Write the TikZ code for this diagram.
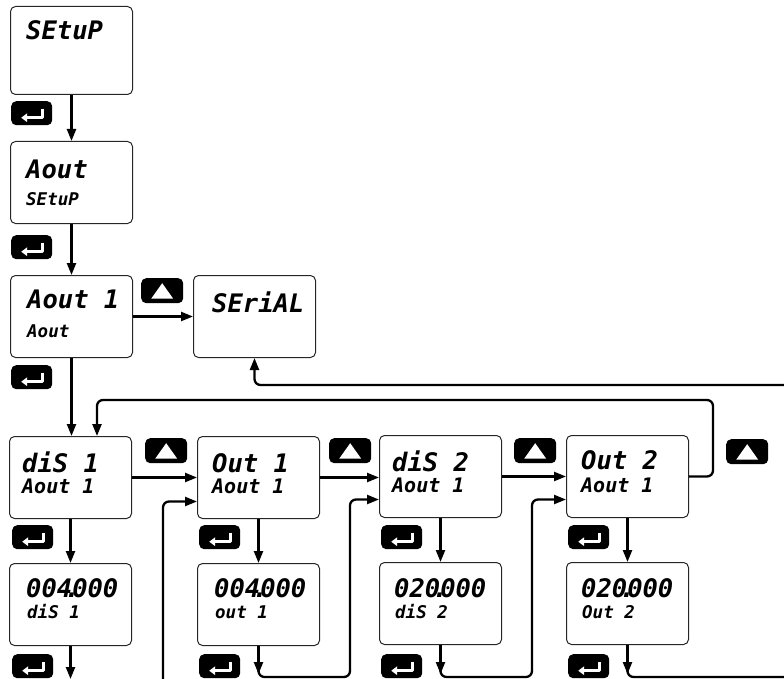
\documentclass[tikz,border=0pt]{standalone}
\usepackage{fontspec}
\newfontfamily\lcd{DejaVu Sans Mono Bold Oblique}
\usetikzlibrary{arrows.meta,calc}
\begin{document}
\begin{tikzpicture}[x=1pt,y=-1pt,
  lcdbox/.style={draw=black!85, line width=1pt, rounded corners=5pt, minimum width=122pt, minimum height=82pt, inner sep=0pt, anchor=north west},
  big/.style={anchor=base west, inner sep=0pt, font=\lcd\fontsize{25.5}{27}\selectfont},
  small/.style={anchor=base west, inner sep=0pt, font=\lcd\fontsize{20}{22}\selectfont},
  smaller/.style={anchor=base west, inner sep=0pt, font=\lcd\fontsize{17.5}{19}\selectfont},
  conn/.style={line width=2.3pt, rounded corners=6pt, -{Triangle[length=12pt,width=9pt]}},
  plain/.style={line width=2.3pt, rounded corners=6pt},
  tip/.style={line width=2.3pt, -{Triangle[length=12pt,width=9pt]}},
  enterkey/.style={fill=black, rounded corners=5pt, minimum width=41pt, minimum height=24pt, inner sep=0pt, anchor=north west,
    path picture={\path (path picture bounding box.center) coordinate (pc);
      \draw[white, sharp corners, line width=2.6pt, line join=round, -{Triangle[length=6pt,width=8.5pt]}]
        ($(pc)+(10.5,-4.5)$) -- ($(pc)+(10.5,4.5)$) -- ($(pc)+(-10.5,4.5)$);}},
  upkey/.style={fill=black, rounded corners=5pt, minimum width=42pt, minimum height=25pt, inner sep=0pt, anchor=north west,
    path picture={\path (path picture bounding box.center) coordinate (pc);
      \fill[white, sharp corners] ($(pc)+(-11,8)$) -- ($(pc)+(11,8)$) -- ($(pc)+(0,-7.5)$) -- cycle;}}
]
\useasboundingbox (0,0) rectangle (784,679);

% boxes
\node[lcdbox, minimum height=88pt] (setup) at (10,6) {};
\node[lcdbox] (aout) at (10,141) {};
\node[lcdbox] (aout1) at (10,275) {};
\node[lcdbox] (serial) at (193,275) {};
\node[lcdbox] (dis1) at (9,436) {};
\node[lcdbox] (out1) at (197,436) {};
\node[lcdbox] (dis2) at (379,435) {};
\node[lcdbox] (out2) at (566,435) {};
\node[lcdbox] (v1) at (9,563) {};
\node[lcdbox] (v2) at (197,563) {};
\node[lcdbox] (v3) at (379,562) {};
\node[lcdbox] (v4) at (566,562) {};

% texts
\node[big] (setupT) at ($(setup.north west)+(16,34)$) {SEtuP};
\node[big] (aoutT) at ($(aout.north west)+(16,38)$) {Aout};
\node[smaller] (aoutS) at ($(aout.north west)+(16,65)$) {SEtuP};
\node[big] (aout1T) at ($(aout1.north west)+(17,33)$) {Aout 1};
\node[smaller] (aout1S) at ($(aout1.north west)+(17,62)$) {Aout};
\node[big] (serialT) at ($(serial.north west)+(19,37)$) {SEriAL};
\node[big] (dis1T) at ($(dis1.north west)+(13,36)$) {diS 1};
\node[small] (dis1S) at ($(dis1.north west)+(13,57)$) {Aout 1};
\node[big] (out1T) at ($(out1.north west)+(15,36)$) {Out 1};
\node[small] (out1S) at ($(out1.north west)+(15,57)$) {Aout 1};
\node[big] (dis2T) at ($(dis2.north west)+(13,36)$) {diS 2};
\node[small] (dis2S) at ($(dis2.north west)+(13,57)$) {Aout 1};
\node[big] (out2T) at ($(out2.north west)+(15,34)$) {Out 2};
\node[small] (out2S) at ($(out2.north west)+(15,57)$) {Aout 1};
\node[big] (v1T) at ($(v1.north west)+(17,34)$) {004\makebox[0pt]{.}000};
\node[smaller] (v1S) at ($(v1.north west)+(18,55)$) {diS 1};
\node[big] (v2T) at ($(v2.north west)+(17,34)$) {004\makebox[0pt]{.}000};
\node[smaller] (v2S) at ($(v2.north west)+(18,55)$) {out 1};
\node[big] (v3T) at ($(v3.north west)+(15,35)$) {020\makebox[0pt]{.}000};
\node[smaller] (v3S) at ($(v3.north west)+(16,56)$) {diS 2};
\node[big] (v4T) at ($(v4.north west)+(15,35)$) {020\makebox[0pt]{.}000};
\node[smaller] (v4S) at ($(v4.north west)+(16,56)$) {Out 2};

% keys
\node[enterkey] (e1) at (11,101) {};
\node[enterkey] (e2) at (11,235) {};
\node[enterkey] (e3) at (11,365) {};
\node[enterkey] (e4) at (12,525) {};
\node[enterkey] (e5) at (199,525) {};
\node[enterkey] (e6) at (381,525) {};
\node[enterkey] (e7) at (568,525) {};
\node[enterkey] (e8) at (12,654) {};
\node[enterkey] (e9) at (199,654) {};
\node[enterkey] (e10) at (381,654) {};
\node[enterkey] (e11) at (568,654) {};
\node[upkey] (u1) at (141,278) {};
\node[upkey] (u2) at (145,438) {};
\node[upkey] (u3) at (329,438) {};
\node[upkey] (u4) at (514,438) {};
\node[upkey] (u5) at (726,439) {};

% free ends
\coordinate (lpR) at (713,400);
\coordinate (lpL) at (97,400);
\coordinate (rin) at (784,385);
\coordinate (bot) at (0,679);
\coordinate (f1) at (163,679);
\coordinate (c2) at (350,677);
\coordinate (c3) at (532,677);
\coordinate (c4) at (784,677);

% connectors
\draw[conn] (setup.south) -- (aout.north);
\draw[conn] (aout.south) -- (aout1.north);
\draw[conn] (aout1.east) -- (serial.west);
\draw[conn] (aout1.south) -- (aout1.south |- dis1.north);
\draw[conn] (dis1.east) -- (dis1.east -| out1.west);
\draw[conn] (out1.east) -- (out1.east -| dis2.west);
\draw[conn] (dis2.east) -- (dis2.east -| out2.west);
\draw[conn] (out2.east) -| (lpR) -- (lpL) -- (lpL |- dis1.north);
\draw[conn] (rin) -| (serial.south);
\draw[conn] (dis1.south) -- (v1.north);
\draw[conn] (out1.south) -- (v2.north);
\draw[conn] (dis2.south) -- (v3.north);
\draw[conn] (out2.south) -- (v4.north);
\draw[conn] (v1.south) -- (v1.south |- bot);
\draw[conn] (f1) |- ($(out1.west)+(0,24)$);
\draw[conn] (v2.south) |- (c2) |- ($(dis2.west)+(0,23)$);
\draw[tip] (v2.south) -- ++(0,28);
\draw[conn] (v3.south) |- (c3) |- ($(out2.west)+(0,23)$);
\draw[tip] (v3.south) -- ++(0,29);
\draw[plain] (v4.south) |- (c4);
\draw[tip] (v4.south) -- ++(0,29);
\end{tikzpicture}
\end{document}
